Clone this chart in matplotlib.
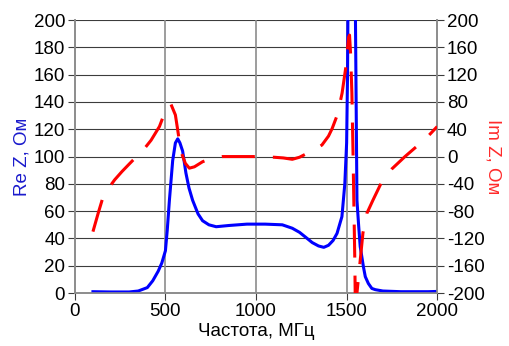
import matplotlib
matplotlib.use("Agg")
import matplotlib.pyplot as plt

plt.rcParams['font.family'] = ['Liberation Sans', 'DejaVu Sans']
plt.rcParams['font.size'] = 13.5
plt.rcParams['axes.unicode_minus'] = False

# Re Z, Ohm (left axis)
freq_re = [100, 200, 300, 350, 400, 430, 460, 480, 500, 510, 522, 540, 555, 568, 580, 595,
           613, 630, 650, 680, 705, 740, 780, 850, 950, 1050, 1145, 1200, 1240, 1273,
           1310, 1345, 1374, 1400, 1425, 1447, 1474, 1490, 1500, 1505, 1510, 1520,
           1527, 1535, 1545, 1550, 1557, 1566, 1575, 1593, 1603, 1620, 1639, 1658,
           1700, 1800, 1877, 1950, 2000]
re_z = [1, 0.8, 0.8, 1.5, 4, 9, 16, 22, 31, 46, 68, 97, 110, 113, 110, 104,
        88, 77, 68, 58, 53, 50, 48.6, 49.5, 50.5, 50.5, 50, 47.5, 44.5, 41,
        37, 34.5, 33.5, 35, 38.5, 43.7, 56, 80, 110, 160, 260, 450,
        600, 450, 260, 180, 68, 50, 34, 19, 12, 7, 3.4, 2.5,
        1.5, 1, 1, 1, 1.2]

# Im Z, Ohm (right axis)
freq_im = [100, 130, 156, 190, 220, 260, 300, 348, 385, 421, 467, 507, 530, 555,
           570, 586, 610, 632, 660, 705, 750, 815, 900, 1000, 1100, 1150, 1200,
           1240, 1282, 1330, 1364, 1400, 1420, 1450, 1475, 1495, 1511, 1516, 1522,
           1529, 1535, 1540, 1545, 1549, 1554, 1557, 1575, 1590, 1612, 1645, 1694,
           1750, 1822, 1896, 1950, 2000]
im_z = [-110, -82, -59, -45, -34, -22, -11, 2, 12, 24, 44, 72, 77, 61,
        35, 7, -10, -17, -15, -7.6, -3, 0, 0, 0, -1, -2, -4,
        -1, 4.7, 11, 17, 30, 41, 62, 93, 130, 175, 178, 150,
        93, 10, -70, -150, -240, -240, -200, -152, -112, -83, -64, -37,
        -18, 0, 17, 30, 44]

fig = plt.figure(figsize=(5.09, 3.46), dpi=100)
ax1 = fig.add_axes([0.147, 0.153, 0.712, 0.789])
ax2 = ax1.twinx()

# grid
for yv in range(20, 201, 20):
    ax1.axhline(yv, color='#3c3c3c', lw=0.8, zorder=0)
for xv in [500, 1000, 1500]:
    ax1.axvline(xv, color='#8c8c8c', lw=1.2, zorder=0)

ax1.plot(freq_re, re_z, color='#0000ff', lw=2.2, zorder=3)
ax2.plot(freq_im, im_z, color='#ff0000', lw=2.2, dashes=(10.8, 5.9), zorder=3)

ax1.set_xlim(0, 2000)
ax1.set_ylim(0, 200)
ax2.set_ylim(-200, 200)
ax1.set_xticks([0, 500, 1000, 1500, 2000])
ax1.set_yticks(range(0, 201, 20))
ax2.set_yticks(range(-200, 201, 40))

for ax in (ax1, ax2):
    for s in ax.spines.values():
        s.set_color('#8c8c8c')
        s.set_linewidth(1.2)
    ax.spines['top'].set_visible(False)
    ax.tick_params(length=5, width=0.8, color='#3c3c3c', pad=2)

ax1.set_xlabel('Частота, МГц', labelpad=2)
ax1.set_ylabel('Re Z, Ом', color='#1a1acc', labelpad=2)
ax2.set_ylabel('Im Z, Ом', color='#ff2a2a', rotation=270, labelpad=0, va='bottom')

fig.savefig('out.png', dpi=100)
